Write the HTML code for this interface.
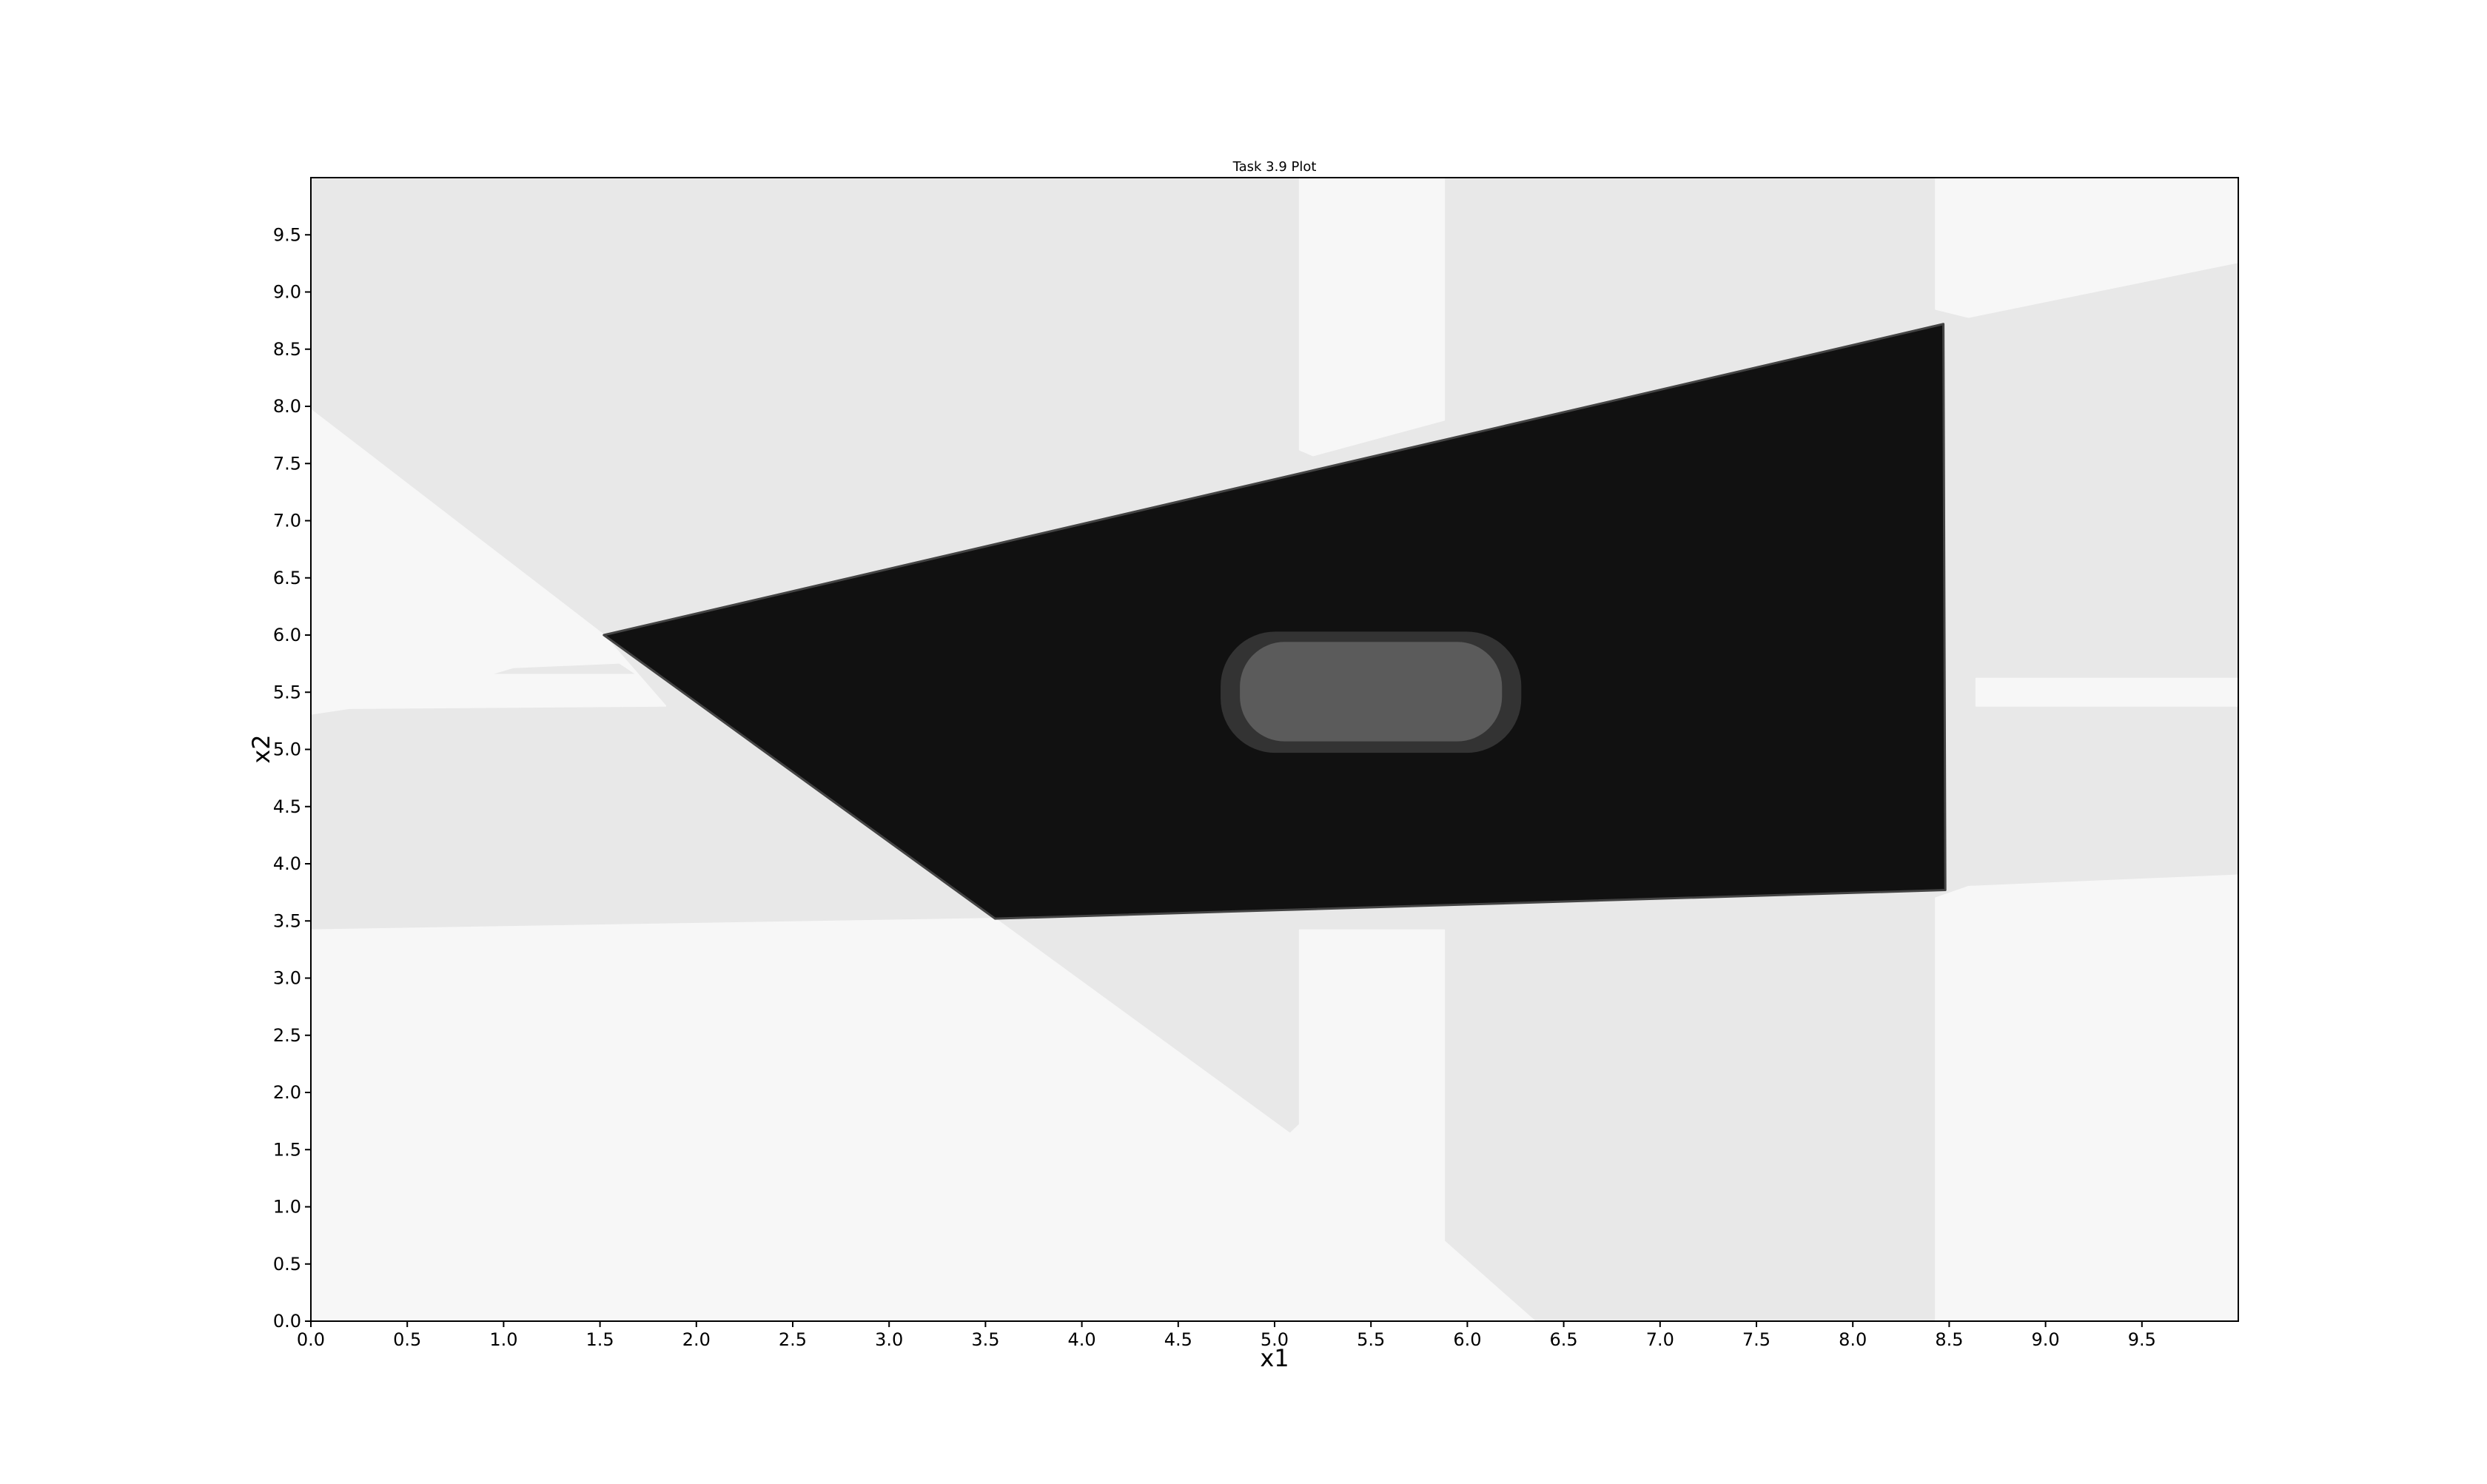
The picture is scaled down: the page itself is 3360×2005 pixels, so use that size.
<!DOCTYPE html>
<html><head><meta charset="utf-8"><style>html,body{margin:0;padding:0;background:#fff;}svg{display:block;}</style></head>
<body>
<svg id="chart" xmlns="http://www.w3.org/2000/svg" width="3360" height="2005" viewBox="0 0 3360 2005" font-family="'DejaVu Sans','Liberation Sans',sans-serif">
<rect width="3360" height="2005" fill="#fff"/>
<g id="plot"></g>
<g id="axes"></g>
</svg>
<script>
// data-space regions (x1, x2 coordinates)
const lightRegions = [
  [[5.13,10],[5.88,10],[5.88,7.88],[5.2,7.57],[5.13,7.62]],
  [[8.43,10],[10,10],[10,9.26],[8.6,8.78],[8.43,8.85]],
  [[0,7.97],[1.52,6.0],[1.84,5.38],[0.2,5.36],[0,5.31]],
  [[0,0],[0,3.42],[3.55,3.52],[5.08,1.64],[5.13,1.72],[5.13,3.42],[5.88,3.42],[5.88,0.7],[6.35,0]],
  [[8.43,0],[10,0],[10,3.9],[8.6,3.8],[8.43,3.7]],
  [[8.64,5.62],[10,5.62],[10,5.38],[8.64,5.38]]
];
const notchRegion = [[0.95,5.66],[1.68,5.66],[1.6,5.75],[1.05,5.71]];
const darkRegion = [[1.52,6.0],[8.47,8.72],[8.48,3.77],[3.55,3.52]];
const outerBlob = [4.72,6.28,4.97,6.03];
const innerBlob = [4.82,6.18,5.07,5.94];
const xTicks = [0,0.5,1,1.5,2,2.5,3,3.5,4,4.5,5,5.5,6,6.5,7,7.5,8,8.5,9,9.5];
const yTicks = [0,0.5,1,1.5,2,2.5,3,3.5,4,4.5,5,5.5,6,6.5,7,7.5,8,8.5,9,9.5];

const L=420,R=3024,T=240,B=1785;
const sx=v=>L+(v/10)*(R-L);
const sy=v=>B-(v/10)*(B-T);
const NS='http://www.w3.org/2000/svg';
const plot=document.getElementById('plot');
const axes=document.getElementById('axes');
function mk(tag,attrs,parent){const e=document.createElementNS(NS,tag);for(const k in attrs)e.setAttribute(k,attrs[k]);parent.appendChild(e);return e;}
const pts=p=>p.map(q=>sx(q[0])+','+sy(q[1])).join(' ');

let bg=mk('rect',{x:L,y:T,width:R-L,height:B-T,fill:'#e8e8e8'},plot);


lightRegions.forEach((r,i)=>{
  const p=mk('polygon',{points:pts(r),fill:'#f7f7f7','stroke':'#f7f7f7','stroke-width':2,'stroke-linejoin':'round'},plot);
  
  
});
let nt=mk('polygon',{points:pts(notchRegion),fill:'#e8e8e8'},plot);


let dk=mk('polygon',{points:pts(darkRegion),fill:'#111','stroke':'#444','stroke-width':3,'stroke-linejoin':'round'},plot);


function blob(b,fill,name){
  const x=sx(b[0]),w=sx(b[1])-sx(b[0]),y=sy(b[3]),h=sy(b[2])-sy(b[3]);
  const e=mk('rect',{x:x,y:y,width:w,height:h,rx:h*0.45,ry:h*0.45,fill:fill},plot);
  
  
}
blob(outerBlob,'#333','outer-blob');
blob(innerBlob,'#5b5b5b','inner-blob');

let fr=mk('rect',{x:L,y:T,width:R-L,height:B-T,fill:'none',stroke:'#000','stroke-width':2},axes);


xTicks.forEach(v=>{
  const x=sx(v);
  const t=mk('line',{x1:x,x2:x,y1:B,y2:B+8,stroke:'#000','stroke-width':2},axes);
  
  
  const l=mk('text',{x:x,y:B+33,'text-anchor':'middle','font-size':24,fill:'#000'},axes);
  l.textContent=v.toFixed(1);
  
  
});
yTicks.forEach(v=>{
  const y=sy(v);
  const t=mk('line',{x1:L-8,x2:L,y1:y,y2:y,stroke:'#000','stroke-width':2},axes);
  
  
  const l=mk('text',{x:L-13,y:y+8,'text-anchor':'end','font-size':24,fill:'#000'},axes);
  l.textContent=v.toFixed(1);
  
  
});
let xt=mk('text',{x:(L+R)/2,y:1846,'text-anchor':'middle','font-size':32,fill:'#000'},axes);
xt.textContent='x1';


let yt=mk('text',{x:0,y:0,'text-anchor':'middle','font-size':32,fill:'#000',transform:'translate(364 1012) rotate(-90)'},axes);
yt.textContent='x2';


let ti=mk('text',{x:(L+R)/2,y:231,'text-anchor':'middle','font-size':18,fill:'#000'},axes);
ti.textContent='Task 3.9 Plot';


</script>
</body></html>
